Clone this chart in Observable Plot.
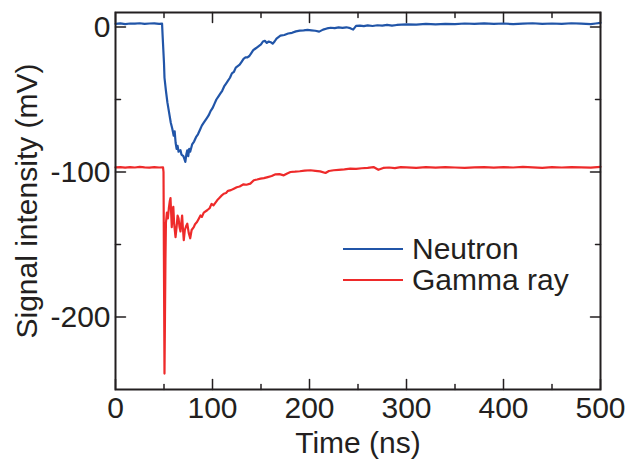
<!DOCTYPE html>
<html>
<head>
<meta charset="utf-8">
<script src="https://cdn.jsdelivr.net/npm/d3@7"></script>
<script src="https://cdn.jsdelivr.net/npm/@observablehq/plot@0.6"></script>
<style>
  body { margin: 0; background: #fff; font-family: "Liberation Sans", Arial, sans-serif; }
  #wrap { position: relative; width: 641px; height: 461px; }
  #legend { position: absolute; left: 343px; top: 233px; }
  .row { display: flex; align-items: center; height: 31px; }
  .swatch { width: 60px; height: 0; border-top: 2px solid; margin-right: 9px; }
  .lab { font-size: 30px; color: #231f20; line-height: 31px; }
</style>
</head>
<body>
<div id="wrap"><div id="chart"></div><div id="legend"></div></div>
<script>
// ---- data ----
const seriesNames = ["Neutron", "Gamma ray"];
const seriesColors = ["#2155a8", "#ee2a2a"];

const neutronTime = [0,5,10,15,20,25,30,35,40,45,48,48.5,50,50.5,52,53.5,55,57,58.5,60,61,62,63,64,65,67,68,70,71,72,73,74,75,76,77,79,81,83,85,87,89,91,94,96,98,100,102,104,106,108,110,112,114,116,118,120,122,124,126,128,130,132,134,136,138,140,142,144,146,148,150,152,154,156,158,160,162,164,166,168,170,174,178,182,186,190,194,198,202,206,210,214,218,222,226,230,234,238,242,245,248,252,256,260,265,270,275,280,285,290,295,300,310,320,330,340,350,360,370,380,390,400,410,420,430,440,450,460,470,480,490,495,500];
const neutronSignal = [2.2,2.5,2.0,2.4,2.3,2.6,2.1,2.4,2.5,2.2,2.3,-5,-25,-35,-44,-52,-58,-66,-70,-75,-72,-80,-84,-82,-86,-85,-88,-89,-91,-93,-88,-85,-89,-84,-86,-81,-79,-76,-74,-71,-68,-66,-63,-61,-58,-56,-53,-50,-48,-46,-44,-41,-39,-37,-35,-32,-31,-28,-27,-26,-24,-22,-21,-21,-20,-18,-16,-15,-14,-13,-12,-10,-9.5,-11,-10,-10.5,-11.5,-10,-8,-7,-6,-5.5,-4.5,-4,-3,-2.5,-2.3,-2.0,-2.3,-2.6,-3.2,-1.8,-1.0,-0.5,-0.8,-0.3,-0.6,-0.2,-0.8,-1.8,0.8,1.0,0.6,1.1,0.7,1.2,0.9,1.5,0.9,1.4,1.6,1.8,1.7,2.1,1.8,2.2,2.0,2.4,2.1,2.5,2.2,2.4,2.0,2.3,2.6,2.1,2.4,2.2,2.6,2.3,2.0,2.4,2.8];

const gammaTime = [0,5,10,15,20,25,30,35,40,45,49,49.5,50,50.5,51,51.5,52,53,54,55,56,56.7,57.5,58,59,59.6,60.5,61.9,63,64,65,66,67,68,68.7,69.5,70.4,71.5,73,74,75.5,77,78.5,80.7,82,84,86,87.6,89,91,94.5,97,99,101,104.8,107,109,111.6,114,116,119,122,125,128,132,135,139,142.6,146,149.5,153,157,161,165,169,173.5,177,180.4,185,190,195,201,206,211,216.5,220,225,230,236,242,248,254,260,266,271,276,282,288,294,300,310,320,330,340,350,360,370,380,390,400,410,420,430,440,450,460,470,480,490,500];
const gammaSignal = [-96.8,-96.6,-97.0,-96.7,-96.9,-96.5,-96.8,-97.0,-96.6,-96.9,-96.8,-100,-170,-239,-200,-160,-135,-128,-132,-125,-120,-118,-130,-138,-126,-124,-136,-145,-138,-130,-132,-138,-141,-134,-130,-139,-147,-140,-137,-135.6,-142,-145.7,-140,-138,-136,-134.5,-132,-130,-131,-128,-126.4,-125,-122,-123,-119.5,-118,-116.5,-115,-114.5,-113,-112.5,-111.5,-110.5,-110,-108.5,-108.8,-108,-105.7,-105.2,-104.6,-104.2,-103.5,-102.8,-101.6,-101.5,-102.3,-101,-100,-99.8,-99.5,-99,-98.8,-99.2,-99.6,-100.7,-99.3,-98.8,-98.5,-98.2,-97.7,-97.8,-97.4,-97.1,-96.6,-98.5,-97.2,-96.9,-97.3,-96.6,-96.8,-97.1,-96.7,-97.0,-96.6,-96.9,-97.2,-96.8,-96.6,-97.0,-96.7,-96.9,-96.5,-96.8,-97.1,-96.7,-96.9,-96.6,-96.8,-97.0,-96.4];

const xMajorTicks = [0, 100, 200, 300, 400, 500];
const xMinorTicks = [50, 150, 250, 350, 450];
const yMajorTicks = [0, -100, -200];
const yMinorTicks = [-50, -150];
const xDomain = [0, 500];
const yDomain = [-250, 10];

// ---- build tables ----
const neutron = neutronTime.map((t, i) => ({t, v: neutronSignal[i]}));
const gamma = gammaTime.map((t, i) => ({t, v: gammaSignal[i]}));

const ink = "#231f20";
const tickShape = {draw(ctx, l) { ctx.moveTo(0, 0); ctx.lineTo(0, -l); }};
const tickOpts = {shape: tickShape, anchor: "start", stroke: ink, strokeWidth: 1.5};
const plain = d => String(d);

const chart = Plot.plot({
  width: 641,
  height: 461,
  marginLeft: 115,
  marginRight: 41,
  marginTop: 12,
  marginBottom: 72,
  style: {fontFamily: "'Liberation Sans', Arial, sans-serif", fontSize: "30px", color: ink, background: "#fff"},
  x: {domain: xDomain},
  y: {domain: yDomain},
  marks: [
    Plot.axisX(xMajorTicks, {tickSize: 0, tickPadding: 7, fontSize: 30, tickFormat: plain, label: "Time (ns)", labelAnchor: "center", labelOffset: 63, labelArrow: "none"}),
    Plot.axisY(yMajorTicks, {tickSize: 0, tickPadding: 5, fontSize: 30, tickFormat: plain, label: "Signal intensity (mV)", labelAnchor: "center", labelOffset: 100, labelArrow: "none"}),
    // inward ticks: bottom / top
    Plot.vector(xMajorTicks, {x: d => d, y: yDomain[0], length: 10, rotate: 0, ...tickOpts}),
    Plot.vector(xMinorTicks, {x: d => d, y: yDomain[0], length: 5, rotate: 0, ...tickOpts}),
    Plot.vector(xMajorTicks, {x: d => d, y: yDomain[1], length: 10, rotate: 180, ...tickOpts}),
    Plot.vector(xMinorTicks, {x: d => d, y: yDomain[1], length: 5, rotate: 180, ...tickOpts}),
    // inward ticks: left / right
    Plot.vector(yMajorTicks, {x: xDomain[0], y: d => d, length: 10, rotate: 90, ...tickOpts}),
    Plot.vector(yMinorTicks, {x: xDomain[0], y: d => d, length: 5, rotate: 90, ...tickOpts}),
    Plot.vector(yMajorTicks, {x: xDomain[1], y: d => d, length: 10, rotate: -90, ...tickOpts}),
    Plot.vector(yMinorTicks, {x: xDomain[1], y: d => d, length: 5, rotate: -90, ...tickOpts}),
    Plot.line(neutron, {x: "t", y: "v", stroke: seriesColors[0], strokeWidth: 2.2}),
    Plot.line(gamma, {x: "t", y: "v", stroke: seriesColors[1], strokeWidth: 2.2}),
    Plot.frame({stroke: ink, strokeWidth: 2})
  ]
});
document.getElementById("chart").appendChild(chart);

const legend = document.getElementById("legend");
seriesNames.forEach((name, i) => {
  const row = document.createElement("div");
  row.className = "row";
  const sw = document.createElement("div");
  sw.className = "swatch";
  sw.style.borderTopColor = seriesColors[i];
  const lab = document.createElement("span");
  lab.className = "lab";
  lab.textContent = name;
  row.appendChild(sw);
  row.appendChild(lab);
  legend.appendChild(row);
});
</script>
</body>
</html>
